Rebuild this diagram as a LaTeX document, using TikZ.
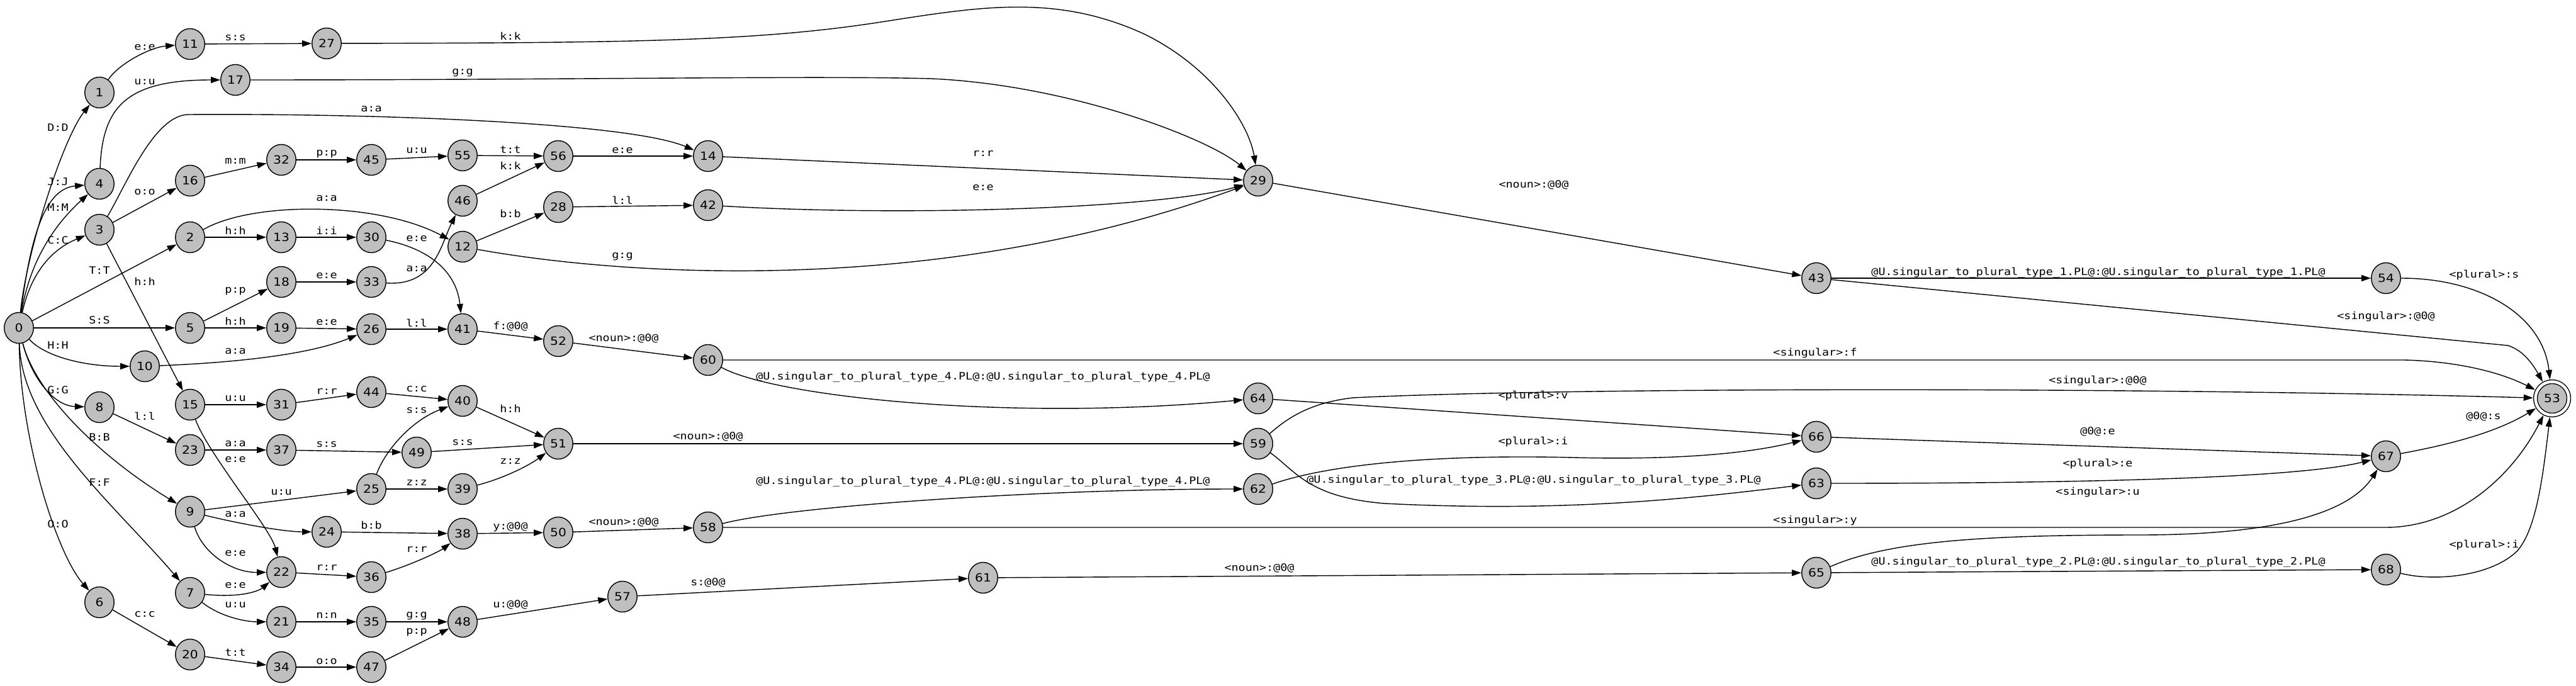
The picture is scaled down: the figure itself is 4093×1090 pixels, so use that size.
\documentclass[tikz,border=0pt]{standalone}
\usepackage{fontspec}
\setmainfont{DejaVu Sans}[FakeStretch=1.12]
\newfontfamily\edgefont{DejaVu Sans Mono}[FakeStretch=1.14]
\usepackage{tikz}
\usetikzlibrary{arrows.meta, shapes.geometric}
\definecolor{stategray}{rgb}{0.75,0.75,0.75}
\tikzstyle{state}=[ellipse, draw=black, fill=stategray, line width=0.8pt, minimum width=9.3mm, minimum height=9.8mm, inner sep=0pt, font=\fontsize{10.3}{12}\selectfont]
\tikzstyle{final}=[circle, draw=black, fill=stategray, line width=0.8pt, inner sep=0pt, font=\fontsize{10.3}{12}\selectfont, double, double distance=0.9mm, minimum size=10.6mm, outer sep=0.75mm]
\tikzstyle{lbl}=[inner sep=0pt, font=\edgefont\fontsize{9.2}{11}\selectfont]
\tikzstyle{arrow}=[line width=0.8pt, ->, >={Triangle[length=3mm, width=2mm]}]
\begin{document}
\begin{tikzpicture}[x=0.2mm, y=-0.2mm]
		\useasboundingbox (0,0) rectangle (4093,1090);
		\node(n0)[state] at (30,521){0};
		\node(n1)[state] at (158,147){1};
		\node(n4)[state] at (158,292){4};
		\node(n3)[state] at (158,365){3};
		\node(n8)[state] at (158,647){8};
		\node(n6)[state] at (158,957){6};
		\node(n10)[state] at (230,582){10};
		\node(n11)[state] at (302,70){11};
		\node(n16)[state] at (302,287){16};
		\node(n2)[state] at (302,377){2};
		\node(n5)[state] at (302,521){5};
		\node(n15)[state] at (302,643){15};
		\node(n23)[state] at (302,715){23};
		\node(n9)[state] at (302,813){9};
		\node(n7)[state] at (302,942){7};
		\node(n20)[state] at (302,1040){20};
		\node(n17)[state] at (374,127){17};
		\node(n32)[state] at (447,254){32};
		\node(n13)[state] at (447,377){13};
		\node(n18)[state] at (447,448){18};
		\node(n19)[state] at (447,521){19};
		\node(n31)[state] at (447,643){31};
		\node(n37)[state] at (447,715){37};
		\node(n22)[state] at (447,909){22};
		\node(n21)[state] at (447,988){21};
		\node(n34)[state] at (447,1060){34};
		\node(n27)[state] at (519,69){27};
		\node(n24)[state] at (519,845){24};
		\node(n45)[state] at (590,254){45};
		\node(n30)[state] at (590,377){30};
		\node(n33)[state] at (590,448){33};
		\node(n26)[state] at (590,523){26};
		\node(n44)[state] at (590,623){44};
		\node(n25)[state] at (590,777){25};
		\node(n36)[state] at (590,917){36};
		\node(n35)[state] at (590,988){35};
		\node(n47)[state] at (590,1060){47};
		\node(n49)[state] at (662,719){49};
		\node(n55)[state] at (735,247){55};
		\node(n46)[state] at (735,319){46};
		\node(n12)[state] at (735,392){12};
		\node(n41)[state] at (735,523){41};
		\node(n40)[state] at (735,637){40};
		\node(n39)[state] at (735,777){39};
		\node(n38)[state] at (735,848){38};
		\node(n48)[state] at (735,988){48};
		\node(n56)[state] at (887,248){56};
		\node(n28)[state] at (887,329){28};
		\node(n52)[state] at (887,542){52};
		\node(n51)[state] at (887,705){51};
		\node(n50)[state] at (887,846){50};
		\node(n57)[state] at (989,948){57};
		\node(n14)[state] at (1125,248){14};
		\node(n42)[state] at (1125,326){42};
		\node(n60)[state] at (1125,572){60};
		\node(n58)[state] at (1125,838){58};
		\node(n61)[state] at (1562,918){61};
		\node(n29)[state] at (1999,287){29};
		\node(n64)[state] at (1999,633){64};
		\node(n59)[state] at (1999,705){59};
		\node(n62)[state] at (1999,777){62};
		\node(n43)[state] at (2886,442){43};
		\node(n66)[state] at (2886,694){66};
		\node(n63)[state] at (2886,768){63};
		\node(n65)[state] at (2886,910){65};
		\node(n54)[state] at (3791,442){54};
		\node(n67)[state] at (3791,725){67};
		\node(n68)[state] at (3791,905){68};
		\node(n53)[final] at (4055,633){53};

		\node(e0-1)[lbl] at (92,203){D:D};
		\node(e0-4a)[lbl] at (92,289){J:J};
		\node(e0-4b)[lbl] at (92,330){M:M};
		\node(e0-3)[lbl] at (92,382){C:C};
		\node(e0-2)[lbl] at (158,430){T:T};
		\node(e0-5)[lbl] at (158,509){S:S};
		\node(e0-10)[lbl] at (92,549){H:H};
		\node(e0-8)[lbl] at (92,620){G:G};
		\node(e0-9)[lbl] at (158,695){B:B};
		\node(e0-7)[lbl] at (158,767){F:F};
		\node(e0-6)[lbl] at (92,833){O:O};
		\node(e1-11)[lbl] at (230,75){e:e};
		\node(e11-27)[lbl] at (374,60){s:s};
		\node(e27-29)[lbl] at (811,57){k:k};
		\node(e4-17)[lbl] at (230,130){u:u};
		\node(e17-29)[lbl] at (735,116){g:g};
		\node(e3-14)[lbl] at (590,173){a:a};
		\node(e3-16)[lbl] at (230,305){o:o};
		\node(e3-15)[lbl] at (230,447){h:h};
		\node(e16-32)[lbl] at (374,256){m:m};
		\node(e32-45)[lbl] at (519,245){p:p};
		\node(e45-55)[lbl] at (662,239){u:u};
		\node(e55-56)[lbl] at (811,238){t:t};
		\node(e46-56)[lbl] at (811,263){k:k};
		\node(e56-14)[lbl] at (989,239){e:e};
		\node(e14-29)[lbl] at (1562,244){r:r};
		\node(e2-12)[lbl] at (519,315){a:a};
		\node(e2-13)[lbl] at (374,366){h:h};
		\node(e13-30)[lbl] at (519,366){i:i};
		\node(e30-41)[lbl] at (662,379){e:e};
		\node(e12-28)[lbl] at (811,339){b:b};
		\node(e12-29)[lbl] at (989,408){g:g};
		\node(e28-42)[lbl] at (989,318){l:l};
		\node(e42-29)[lbl] at (1562,298){e:e};
		\node(e33-46)[lbl] at (662,427){a:a};
		\node(e5-18)[lbl] at (374,463){p:p};
		\node(e18-33)[lbl] at (519,438){e:e};
		\node(e5-19)[lbl] at (374,510){h:h};
		\node(e19-26)[lbl] at (519,512){e:e};
		\node(e10-26)[lbl] at (374,558){a:a};
		\node(e26-41)[lbl] at (662,513){l:l};
		\node(e41-52)[lbl] at (811,519){f:@0@};
		\node(e52-60)[lbl] at (991,538){<noun>:@0@};
		\node(e29-43)[lbl] at (2437,294){<noun>:@0@};
		\node(e43-54)[lbl] at (3334,433){@U.singular\_to\_plural\_type\_1.PL@:@U.singular\_to\_plural\_type\_1.PL@};
		\node(e43-53)[lbl] at (3791,503){<singular>:@0@};
		\node(e54-53)[lbl] at (3947,437){<plural>:s};
		\node(e60-53)[lbl] at (2884,561){<singular>:f};
		\node(e60-64)[lbl] at (1562,599){@U.singular\_to\_plural\_type\_4.PL@:@U.singular\_to\_plural\_type\_4.PL@};
		\node(e64-66)[lbl] at (2436,629){<plural>:v};
		\node(e66-67)[lbl] at (3333,686){@0@:e};
		\node(e67-53)[lbl] at (3946,662){@0@:s};
		\node(e15-31)[lbl] at (374,633){u:u};
		\node(e15-22)[lbl] at (374,730){e:e};
		\node(e31-44)[lbl] at (519,622){r:r};
		\node(e44-40)[lbl] at (662,618){c:c};
		\node(e25-40)[lbl] at (662,652){s:s};
		\node(e40-51)[lbl] at (811,649){h:h};
		\node(e8-23)[lbl] at (230,661){l:l};
		\node(e23-37)[lbl] at (374,705){a:a};
		\node(e37-49)[lbl] at (519,706){s:s};
		\node(e49-51)[lbl] at (735,703){s:s};
		\node(e51-59)[lbl] at (1125,694){<noun>:@0@};
		\node(e59-53)[lbl] at (3333,605){<singular>:@0@};
		\node(e59-63)[lbl] at (2437,763){@U.singular\_to\_plural\_type\_3.PL@:@U.singular\_to\_plural\_type\_3.PL@};
		\node(e63-67)[lbl] at (3333,737){<plural>:e};
		\node(e9-25)[lbl] at (447,782){u:u};
		\node(e9-24)[lbl] at (374,817){a:a};
		\node(e9-22)[lbl] at (374,879){e:e};
		\node(e25-39)[lbl] at (662,767){z:z};
		\node(e39-51)[lbl] at (811,733){z:z};
		\node(e24-38)[lbl] at (590,834){b:b};
		\node(e22-36)[lbl] at (519,902){r:r};
		\node(e36-38)[lbl] at (662,873){r:r};
		\node(e38-50)[lbl] at (811,837){y:@0@};
		\node(e50-58)[lbl] at (991,830){<noun>:@0@};
		\node(e58-62)[lbl] at (1562,765){@U.singular\_to\_plural\_type\_4.PL@:@U.singular\_to\_plural\_type\_4.PL@};
		\node(e58-53)[lbl] at (2884,827){<singular>:y};
		\node(e62-66)[lbl] at (2436,702){<plural>:i};
		\node(e7-22)[lbl] at (374,930){e:e};
		\node(e7-21)[lbl] at (374,961){u:u};
		\node(e21-35)[lbl] at (519,978){n:n};
		\node(e35-48)[lbl] at (662,979){g:g};
		\node(e6-20)[lbl] at (230,976){c:c};
		\node(e20-34)[lbl] at (374,1037){t:t};
		\node(e34-47)[lbl] at (519,1051){o:o};
		\node(e47-48)[lbl] at (662,1005){p:p};
		\node(e48-57)[lbl] at (811,961){u:@0@};
		\node(e57-61)[lbl] at (1125,926){s:@0@};
		\node(e61-65)[lbl] at (2001,903){<noun>:@0@};
		\node(e65-68)[lbl] at (3334,893){@U.singular\_to\_plural\_type\_2.PL@:@U.singular\_to\_plural\_type\_2.PL@};
		\node(e65-67)[lbl] at (3333,782){<singular>:u};
		\node(e68-53)[lbl] at (3947,866){<plural>:i};

		\draw[arrow](n0) .. controls (42,400) and (100,220) .. (n1);
		\draw[arrow](n0) .. controls (48,380) and (70,300) .. (n4);
		\draw[arrow](n0) .. controls (50,400) and (100,345) .. (n4);
		\draw[arrow](n0) .. controls (50,430) and (85,395) .. (n3);
		\draw[arrow](n0)--(n2);
		\draw[arrow](n0)--(n5);
		\draw[arrow](n0) .. controls (70,565) and (130,582) .. (n10);
		\draw[arrow](n0) .. controls (50,600) and (85,645) .. (n8);
		\draw[arrow](n0) .. controls (55,620) and (150,720) .. (n9);
		\draw[arrow](n0) .. controls (35,680) and (180,800) .. (n7);
		\draw[arrow](n0) .. controls (33,700) and (90,880) .. (n6);
		\draw[arrow](n1) .. controls (190,100) and (240,75) .. (n11);
		\draw[arrow](n11)--(n27);
		\draw[arrow](n27) .. controls (1000,68) and (1200,66) .. (1400,35) .. controls (1560,10) and (1680,-10) .. (1820,55) .. controls (1930,110) and (1985,200) .. (n29);
		\draw[arrow](n4) .. controls (163,170) and (200,127) .. (n17);
		\draw[arrow](n17) .. controls (900,127) and (1300,120) .. (1480,125) .. controls (1700,135) and (1920,220) .. (n29);
		\draw[arrow](n3) .. controls (200,295) and (245,182) .. (300,182) .. controls (600,180) and (1000,195) .. (n14);
		\draw[arrow](n3)--(n16);
		\draw[arrow](n3)--(n15);
		\draw[arrow](n16)--(n32);
		\draw[arrow](n32)--(n45);
		\draw[arrow](n45)--(n55);
		\draw[arrow](n55)--(n56);
		\draw[arrow](n46)--(n56);
		\draw[arrow](n56)--(n14);
		\draw[arrow](n14)--(n29);
		\draw[arrow](n2) .. controls (400,320) and (600,320) .. (n12);
		\draw[arrow](n2)--(n13);
		\draw[arrow](n13)--(n30);
		\draw[arrow](n30) .. controls (680,395) and (725,430) .. (n41);
		\draw[arrow](n12)--(n28);
		\draw[arrow](n12) .. controls (1000,440) and (1500,470) .. (n29);
		\draw[arrow](n28)--(n42);
		\draw[arrow](n42) .. controls (1450,345) and (1850,330) .. (n29);
		\draw[arrow](n33) .. controls (690,455) and (700,390) .. (n46);
		\draw[arrow](n5)--(n18);
		\draw[arrow](n18)--(n33);
		\draw[arrow](n5)--(n19);
		\draw[arrow](n19)--(n26);
		\draw[arrow](n10) .. controls (400,575) and (500,560) .. (n26);
		\draw[arrow](n26)--(n41);
		\draw[arrow](n41)--(n52);
		\draw[arrow](n52)--(n60);
		\draw[arrow](n29)--(n43);
		\draw[arrow](n43)--(n54);
		\draw[arrow](n43) -- (3985,549) .. controls (4010,557) and (4025,580) .. (n53);
		\draw[arrow](n54) .. controls (3940,442) and (4040,500) .. (n53);
		\draw[arrow](n60) -- (3820,572) .. controls (3900,574) and (3970,590) .. (n53);
		\draw[arrow](n60) .. controls (1230,630) and (1600,670) .. (n64);
		\draw[arrow](n64)--(n66);
		\draw[arrow](n66)--(n67);
		\draw[arrow](n67) .. controls (3900,705) and (3970,685) .. (n53);
		\draw[arrow](n15)--(n31);
		\draw[arrow](n15) .. controls (330,720) and (430,840) .. (n22);
		\draw[arrow](n31)--(n44);
		\draw[arrow](n44)--(n40);
		\draw[arrow](n25) .. controls (610,720) and (650,670) .. (n40);
		\draw[arrow](n40)--(n51);
		\draw[arrow](n8)--(n23);
		\draw[arrow](n23)--(n37);
		\draw[arrow](n37)--(n49);
		\draw[arrow](n49)--(n51);
		\draw[arrow](n51)--(n59);
		\draw[arrow](n59) .. controls (2045,665) and (2080,640) .. (2150,632) .. controls (2500,615) and (3400,615) .. (n53);
		\draw[arrow](n59) .. controls (2060,750) and (2080,790) .. (2200,800) .. controls (2500,815) and (2700,790) .. (n63);
		\draw[arrow](n63) .. controls (3300,768) and (3650,760) .. (n67);
		\draw[arrow](n9)--(n25);
		\draw[arrow](n9) .. controls (380,832) and (450,845) .. (n24);
		\draw[arrow](n9) .. controls (322,880) and (370,910) .. (n22);
		\draw[arrow](n25)--(n39);
		\draw[arrow](n39) .. controls (800,760) and (840,740) .. (n51);
		\draw[arrow](n24)--(n38);
		\draw[arrow](n22)--(n36);
		\draw[arrow](n36) .. controls (660,895) and (700,875) .. (n38);
		\draw[arrow](n38)--(n50);
		\draw[arrow](n50)--(n58);
		\draw[arrow](n58) .. controls (1250,805) and (1650,777) .. (n62);
		\draw[arrow](n58) -- (3790,838) .. controls (3900,838) and (3990,760) .. (n53);
		\draw[arrow](n62) .. controls (2120,735) and (2300,722) .. (2500,727) .. controls (2700,732) and (2800,715) .. (n66);
		\draw[arrow](n7) .. controls (380,950) and (410,940) .. (n22);
		\draw[arrow](n7) .. controls (350,980) and (390,988) .. (n21);
		\draw[arrow](n21)--(n35);
		\draw[arrow](n35)--(n48);
		\draw[arrow](n6)--(n20);
		\draw[arrow](n20)--(n34);
		\draw[arrow](n34)--(n47);
		\draw[arrow](n47)--(n48);
		\draw[arrow](n48)--(n57);
		\draw[arrow](n57)--(n61);
		\draw[arrow](n61)--(n65);
		\draw[arrow](n65)--(n68);
		\draw[arrow](n65) .. controls (3000,860) and (3150,850) .. (3400,850) .. controls (3600,850) and (3730,820) .. (n67);
		\draw[arrow](n68) .. controls (3870,925) and (3960,915) .. (4000,875) .. controls (4030,840) and (4040,760) .. (n53);
	\end{tikzpicture}
\end{document}
